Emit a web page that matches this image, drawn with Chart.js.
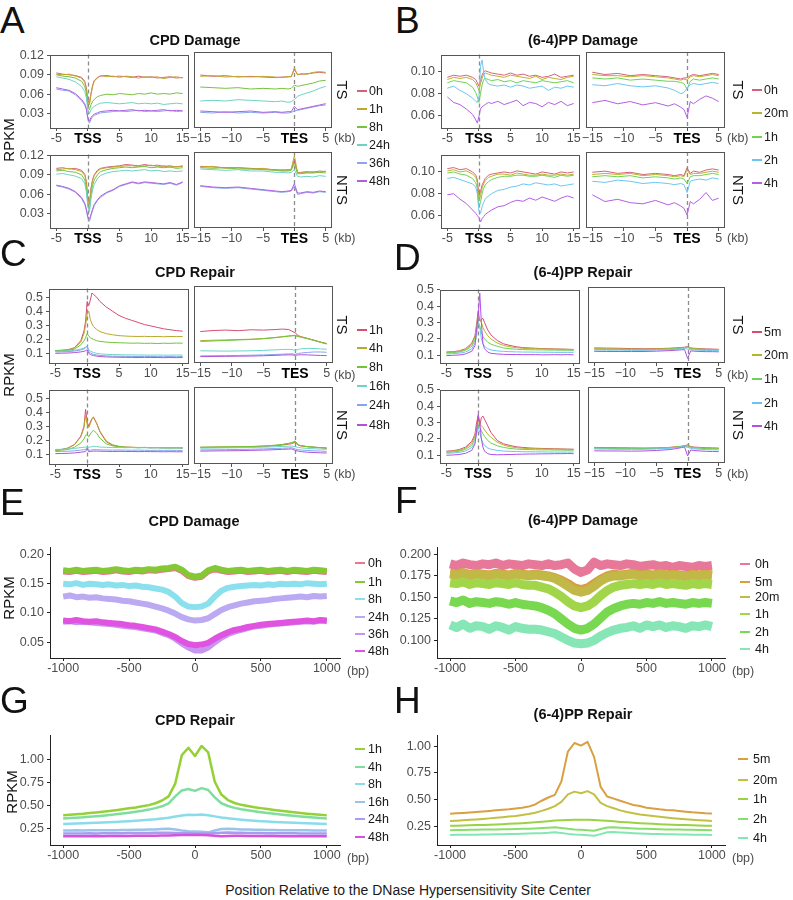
<!DOCTYPE html>
<html>
<head>
<meta charset="utf-8">
<script src="https://cdn.jsdelivr.net/npm/chart.js@4.4.1/dist/chart.umd.min.js"></script>
<style>
body{margin:0;background:#fff;font-family:"Liberation Sans",Arial,Helvetica,sans-serif;}
#page{position:relative;width:793px;height:900px;overflow:hidden;background:#fff;}
#page canvas{position:absolute;}
.t{position:absolute;white-space:nowrap;line-height:1;}
.key{position:absolute;}
</style>
</head>
<body>
<div id="page"></div>
<script>
// x positions (kb around TSS / TES, bp around DHS centre)
const TSS_KB = [-5,-4,-3,-2,-1, -0.5,-0.25,0,0.25,0.5,0.75, 1,1.5,2, 3,4,5,6,7,8,9,10,11,12,13,14,15];
const TES_KB = [-15,-13,-11,-9,-7, -5,-3,-2,-1,-0.5, 0, 0.5,1,2,3,4,5];
const BP = [-1000,-950,-900,-850,-800,-750,-700,-650,-600,-550,
            -500,-450,-400,-350,-300,-250,-200,-150,-100,-50,
            0,
            50,100,150,200,250,300,350,400,450,500,
            550,600,650,700,750,800,850,900,950,1000];

const TSS_TICKS = [-5,0,5,10,15];
const TES_TICKS = [-15,-10,-5,0,5];
const BP_TICKS = [-1000,-500,0,500,1000];
const A_YTICKS = [0.03,0.06,0.09,0.12];
const B_YTICKS = [0.06,0.08,0.10];
const CD_YTICKS = [0.1,0.2,0.3,0.4,0.5];
const E_YTICKS = [0.05,0.10,0.15,0.20];
const F_YTICKS = [0.100,0.125,0.150,0.175,0.200];
const GH_YTICKS = [0.25,0.50,0.75,1.00];

const A_TIMES = ['0h','1h','8h','24h','36h','48h'];
const B_TIMES = ['0h','20m','1h','2h','4h'];
const C_TIMES = ['1h','4h','8h','16h','24h','48h'];
const D_TIMES = ['5m','20m','1h','2h','4h'];
const E_TIMES = ['0h','1h','8h','24h','36h','48h'];
const F_TIMES = ['0h','5m','20m','1h','2h','4h'];
const G_TIMES = ['1h','4h','8h','16h','24h','48h'];
const H_TIMES = ['5m','20m','1h','2h','4h'];

// A: CPD damage
const A_TS_TSS = [
 [.093,.091,.090,.089,.086, .080,.070,.050,.046,.062,.074, .081,.086,.088, .089,.087,.088,.087,.086,.088,.086,.087,.085,.086,.087,.085,.086],
 [.091,.090,.091,.088,.085, .078,.068,.048,.044,.060,.072, .080,.085,.089, .087,.088,.086,.088,.087,.085,.087,.086,.087,.084,.086,.087,.085],
 [.090,.088,.087,.085,.080, .072,.062,.040,.036,.044,.049, .052,.056,.058, .060,.059,.061,.060,.059,.061,.060,.062,.060,.061,.060,.062,.061],
 [.087,.085,.083,.079,.072, .064,.055,.034,.030,.036,.039, .041,.044,.046, .047,.046,.045,.046,.047,.045,.046,.045,.046,.044,.045,.046,.045],
 [.068,.066,.065,.059,.050, .043,.036,.020,.015,.021,.025, .027,.029,.031, .032,.033,.034,.033,.034,.035,.033,.034,.033,.034,.035,.033,.034],
 [.070,.068,.066,.061,.052, .045,.038,.023,.018,.024,.027, .029,.031,.033, .034,.035,.034,.035,.036,.034,.035,.034,.035,.036,.034,.035,.034]];
const A_TS_TES = [
 [.087,.085,.086,.084,.085, .084,.083,.084,.084,.085, .095, .088,.088,.089,.090,.091,.090],
 [.085,.086,.084,.085,.084, .085,.084,.083,.085,.084, .098, .087,.089,.088,.091,.092,.091],
 [.069,.068,.067,.068,.066, .067,.066,.067,.066,.067, .072, .070,.071,.073,.075,.078,.079],
 [.048,.049,.048,.050,.049, .048,.047,.048,.046,.047, .050, .055,.057,.060,.063,.067,.070],
 [.031,.030,.032,.030,.031, .030,.031,.030,.030,.031, .033, .034,.035,.037,.039,.041,.042],
 [.033,.032,.031,.032,.033, .031,.032,.031,.032,.032, .040, .035,.036,.038,.040,.042,.044]];
const A_NTS_TSS = [
 [.100,.101,.099,.100,.097, .091,.080,.052,.046,.070,.083, .090,.097,.100, .102,.103,.104,.106,.105,.104,.106,.104,.105,.103,.104,.102,.104],
 [.098,.099,.100,.098,.095, .089,.078,.050,.044,.068,.081, .089,.095,.099, .101,.102,.103,.104,.104,.103,.104,.105,.103,.104,.102,.103,.103],
 [.096,.097,.095,.094,.090, .082,.070,.042,.036,.060,.074, .082,.090,.095, .098,.100,.101,.102,.101,.102,.103,.101,.102,.101,.102,.100,.101],
 [.091,.092,.090,.088,.084, .076,.064,.040,.033,.054,.067, .075,.084,.089, .093,.095,.096,.097,.096,.097,.098,.096,.097,.095,.096,.095,.096],
 [.073,.071,.068,.063,.053, .044,.035,.022,.018,.027,.035, .042,.050,.055, .062,.066,.072,.075,.078,.076,.078,.077,.076,.075,.077,.074,.078],
 [.074,.072,.069,.064,.055, .046,.037,.025,.021,.029,.037, .044,.051,.057, .063,.067,.073,.076,.079,.077,.079,.078,.077,.076,.078,.075,.079]];
const A_NTS_TES = [
 [.100,.099,.098,.098,.097, .096,.095,.094,.095,.095, .110, .090,.091,.092,.091,.093,.092],
 [.099,.100,.097,.098,.096, .097,.094,.095,.094,.096, .116, .091,.090,.091,.092,.091,.093],
 [.098,.097,.098,.096,.096, .095,.094,.093,.093,.094, .105, .089,.089,.090,.090,.091,.090],
 [.096,.095,.094,.095,.093, .093,.091,.091,.090,.091, .095, .085,.084,.085,.084,.086,.085],
 [.070,.068,.067,.068,.066, .064,.062,.061,.062,.063, .070, .058,.059,.061,.060,.062,.061],
 [.071,.069,.068,.069,.067, .065,.063,.062,.063,.064, .074, .060,.060,.062,.061,.063,.062]];

// B: (6-4)PP damage
const B_TS_TSS = [
 [.095,.097,.096,.097,.095, .093,.090,.087,.092,.097,.100, .101,.100,.099, .098,.097,.099,.097,.098,.096,.097,.095,.096,.098,.095,.096,.097],
 [.093,.095,.094,.095,.093, .090,.087,.083,.089,.094,.098, .099,.098,.097, .096,.095,.097,.096,.095,.094,.096,.093,.095,.094,.093,.095,.096],
 [.090,.092,.091,.090,.086, .081,.077,.072,.080,.088,.093, .094,.093,.092, .093,.091,.092,.090,.092,.091,.090,.092,.091,.090,.091,.092,.090],
 [.085,.087,.083,.080,.076, .073,.072,.076,.105,.111,.100, .093,.089,.088, .087,.088,.086,.088,.087,.085,.086,.087,.083,.086,.085,.087,.086],
 [.077,.072,.070,.066,.061, .056,.053,.059,.066,.068,.069, .070,.072,.071, .073,.070,.072,.074,.069,.072,.071,.068,.072,.070,.073,.069,.071]];
const B_TS_TES = [
 [.098,.096,.097,.095,.096, .095,.094,.093,.092,.093, .093, .095,.096,.095,.096,.097,.096],
 [.096,.095,.095,.094,.095, .094,.093,.092,.091,.092, .091, .094,.095,.094,.095,.096,.095],
 [.093,.092,.093,.091,.092, .091,.090,.090,.089,.088, .083, .090,.092,.091,.092,.093,.092],
 [.087,.086,.088,.086,.085, .086,.084,.082,.079,.080, .084, .087,.088,.087,.088,.089,.088],
 [.071,.073,.070,.072,.069, .071,.068,.070,.067,.065, .058, .072,.070,.074,.077,.075,.072]];
const B_NTS_TSS = [
 [.103,.104,.102,.103,.100, .097,.093,.078,.082,.088,.091, .094,.097,.098, .099,.100,.099,.101,.100,.099,.098,.100,.099,.098,.100,.099,.100],
 [.101,.102,.100,.101,.098, .095,.090,.073,.078,.085,.089, .092,.095,.096, .098,.098,.097,.099,.098,.097,.097,.098,.097,.097,.098,.097,.098],
 [.099,.100,.098,.097,.094, .090,.085,.068,.072,.080,.085, .088,.091,.093, .095,.096,.096,.097,.097,.096,.096,.097,.096,.095,.097,.096,.097],
 [.094,.095,.093,.091,.089, .086,.080,.064,.062,.068,.072, .075,.078,.080, .083,.084,.086,.087,.089,.088,.090,.089,.088,.089,.087,.088,.089],
 [.079,.080,.075,.071,.065, .062,.060,.058,.054,.057,.059, .061,.063,.065, .068,.069,.072,.074,.073,.076,.074,.077,.075,.073,.076,.078,.076]];
const B_NTS_TES = [
 [.098,.099,.097,.098,.096, .097,.096,.095,.096,.095, .102, .097,.099,.098,.100,.101,.100],
 [.096,.097,.096,.097,.095, .096,.095,.094,.095,.094, .100, .096,.097,.097,.098,.099,.098],
 [.094,.095,.094,.095,.093, .094,.093,.092,.093,.092, .088, .094,.095,.095,.096,.097,.096],
 [.090,.089,.091,.090,.088, .089,.088,.087,.088,.087, .080, .090,.091,.092,.091,.093,.092],
 [.078,.072,.074,.071,.070, .073,.069,.071,.068,.066, .060, .072,.070,.074,.080,.073,.075]];

// C: CPD repair
const C_TS_TSS = [
 [.120,.122,.126,.140,.190, .260,.330,.470,.440,.480,.530, .520,.500,.470, .430,.400,.370,.350,.335,.320,.305,.295,.285,.275,.268,.262,.258],
 [.118,.120,.124,.138,.180, .240,.300,.380,.400,.340,.310, .290,.270,.255, .240,.232,.226,.223,.221,.220,.221,.219,.220,.218,.220,.219,.220],
 [.118,.119,.121,.130,.160, .190,.210,.240,.225,.210,.205, .200,.190,.185, .180,.177,.175,.174,.172,.173,.171,.172,.170,.172,.171,.173,.172],
 [.115,.116,.117,.121,.130, .138,.143,.150,.125,.115,.110, .106,.100,.096, .093,.091,.090,.089,.089,.088,.088,.087,.088,.087,.087,.088,.087],
 [.110,.111,.112,.116,.124, .132,.140,.150,.112,.103,.097, .093,.088,.085, .082,.080,.079,.078,.078,.077,.078,.077,.077,.076,.077,.076,.077],
 [.100,.101,.102,.105,.110, .115,.118,.125,.100,.092,.087, .084,.080,.077, .074,.073,.072,.071,.071,.070,.071,.070,.070,.069,.070,.069,.070]];
const C_TS_TES = [
 [.248,.255,.258,.254,.260, .258,.262,.265,.262,.250, .240, .220,.212,.200,.188,.175,.165],
 [.185,.188,.190,.193,.195, .200,.208,.213,.218,.220, .222, .215,.210,.200,.188,.176,.164],
 [.180,.183,.186,.190,.193, .198,.206,.211,.216,.218, .220, .213,.208,.198,.186,.174,.162],
 [.115,.114,.113,.114,.115, .118,.122,.124,.125,.124, .118, .125,.129,.132,.131,.128,.126],
 [.080,.081,.082,.083,.085, .087,.090,.092,.094,.095, .090, .097,.100,.104,.107,.107,.105],
 [.075,.076,.077,.078,.079, .081,.084,.086,.087,.087, .084, .087,.088,.087,.085,.083,.082]];
const C_NTS_TSS = [
 [.130,.135,.145,.170,.230, .300,.420,.330,.300,.330,.355, .365,.320,.260, .190,.165,.155,.150,.150,.148,.149,.147,.148,.146,.147,.146,.145],
 [.130,.134,.144,.168,.225, .290,.380,.310,.290,.320,.350, .360,.320,.265, .195,.168,.157,.152,.150,.149,.149,.148,.147,.147,.146,.147,.146],
 [.128,.130,.135,.150,.180, .210,.235,.240,.225,.245,.262, .270,.250,.215, .175,.160,.155,.150,.149,.148,.149,.147,.148,.147,.146,.147,.146],
 [.135,.136,.138,.142,.148, .150,.152,.155,.150,.152,.155, .158,.155,.152, .150,.148,.149,.147,.148,.146,.147,.146,.147,.145,.146,.145,.146],
 [.120,.121,.122,.125,.130, .133,.135,.150,.128,.130,.132, .133,.133,.132, .131,.130,.131,.130,.129,.130,.129,.128,.129,.128,.129,.128,.128],
 [.105,.106,.107,.110,.115, .118,.120,.140,.118,.120,.122, .123,.123,.122, .121,.120,.121,.120,.120,.119,.120,.119,.119,.118,.119,.118,.118]];
const C_NTS_TES = [
 [.145,.146,.147,.148,.150, .153,.158,.162,.168,.172, .180, .160,.155,.150,.147,.144,.140],
 [.146,.147,.148,.149,.151, .154,.160,.165,.172,.176, .186, .162,.156,.150,.146,.143,.140],
 [.147,.148,.149,.150,.152, .155,.161,.166,.174,.178, .190, .163,.157,.151,.147,.144,.141],
 [.140,.141,.142,.143,.145, .147,.150,.152,.154,.155, .150, .145,.142,.138,.136,.134,.132],
 [.128,.129,.130,.131,.133, .135,.138,.140,.142,.143, .135, .130,.127,.124,.122,.120,.118],
 [.120,.121,.122,.123,.125, .127,.130,.132,.134,.135, .125, .120,.116,.112,.110,.108,.107]];

// D: (6-4)PP repair
const D_TS_TSS = [
 [.120,.122,.127,.140,.175, .220,.290,.370,.310,.320,.325, .300,.255,.225, .190,.170,.160,.152,.147,.145,.143,.141,.140,.139,.138,.137,.136],
 [.118,.120,.124,.135,.165, .210,.280,.340,.320,.300,.270, .250,.220,.200, .175,.160,.152,.147,.143,.141,.140,.139,.138,.137,.137,.136,.135],
 [.115,.117,.120,.130,.155, .195,.260,.300,.280,.240,.215, .200,.180,.168, .155,.145,.140,.137,.135,.134,.133,.133,.132,.132,.131,.131,.130],
 [.108,.110,.113,.120,.140, .175,.220,.310,.270,.200,.170, .155,.140,.133, .127,.124,.122,.121,.120,.120,.119,.119,.119,.118,.118,.118,.118],
 [.098,.100,.102,.108,.125, .160,.260,.340,.480,.300,.170, .140,.120,.112, .108,.106,.105,.105,.104,.104,.104,.103,.103,.104,.103,.104,.103]];
const D_TS_TES = [
 [.142,.141,.140,.138,.137, .138,.140,.142,.145,.146, .150, .142,.140,.138,.136,.135,.134],
 [.138,.137,.136,.135,.134, .136,.138,.140,.143,.144, .148, .140,.138,.136,.134,.133,.132],
 [.134,.133,.133,.132,.131, .133,.135,.137,.140,.141, .145, .137,.135,.133,.131,.130,.129],
 [.130,.129,.129,.128,.128, .130,.132,.134,.137,.138, .135, .132,.130,.128,.127,.126,.125],
 [.122,.121,.121,.121,.121, .123,.126,.128,.131,.132, .080, .125,.123,.121,.120,.120,.119]];
const D_NTS_TSS = [
 [.125,.128,.135,.150,.185, .230,.300,.340,.280,.330,.340, .320,.280,.240, .190,.170,.160,.152,.148,.145,.143,.142,.141,.140,.139,.138,.137],
 [.122,.125,.130,.143,.175, .215,.270,.300,.290,.280,.270, .255,.230,.210, .180,.162,.152,.147,.143,.141,.140,.139,.138,.138,.137,.136,.136],
 [.118,.120,.125,.136,.162, .200,.250,.280,.270,.250,.230, .215,.190,.175, .158,.148,.142,.138,.136,.135,.134,.133,.133,.132,.132,.131,.131],
 [.112,.114,.118,.126,.148, .180,.230,.270,.240,.200,.175, .160,.145,.137, .130,.126,.124,.123,.122,.122,.121,.121,.120,.120,.120,.120,.120],
 [.100,.102,.105,.112,.130, .170,.250,.350,.300,.200,.150, .125,.110,.105, .103,.104,.105,.106,.107,.108,.108,.109,.109,.110,.110,.111,.110]];
const D_NTS_TES = [
 [.145,.144,.143,.142,.141, .142,.145,.148,.152,.155, .160, .150,.147,.145,.143,.142,.141],
 [.143,.142,.141,.140,.140, .141,.144,.147,.151,.154, .158, .148,.145,.143,.141,.140,.139],
 [.140,.139,.138,.138,.138, .140,.143,.146,.150,.153, .150, .145,.142,.140,.138,.137,.136],
 [.136,.135,.134,.134,.134, .136,.140,.143,.148,.151, .145, .140,.137,.134,.132,.131,.130],
 [.125,.124,.124,.123,.124, .127,.132,.137,.144,.148, .095, .130,.127,.124,.122,.121,.120]];

// E: CPD damage around DHS
const E_DATA = [
 [.171,.170,.172,.170,.171,.172,.170,.171,.173,.171, .170,.172,.171,.173,.172,.174,.175,.177,.172,.163, .160, .162,.171,.175,.172,.170,.171,.172,.170,.171,.172, .170,.171,.172,.170,.172,.171,.170,.172,.171,.170],
 [.173,.172,.174,.172,.173,.174,.172,.173,.175,.173, .172,.174,.173,.175,.174,.176,.177,.179,.174,.165, .162, .164,.173,.177,.174,.172,.173,.174,.172,.173,.174, .172,.173,.174,.172,.174,.173,.172,.174,.173,.172],
 [.150,.149,.151,.148,.150,.149,.148,.149,.147,.148, .146,.147,.145,.144,.142,.140,.136,.128,.117,.111, .110, .111,.116,.128,.138,.143,.145,.146,.147,.148,.147, .149,.148,.150,.149,.150,.149,.151,.150,.149,.150],
 [.128,.130,.127,.128,.126,.127,.125,.124,.123,.121, .120,.118,.116,.114,.111,.108,.104,.099,.093,.089, .087, .088,.091,.098,.105,.110,.113,.116,.118,.120,.121, .122,.124,.125,.126,.127,.128,.127,.129,.128,.129],
 [.085,.086,.084,.085,.084,.083,.082,.081,.080,.078, .077,.076,.074,.072,.070,.066,.062,.056,.048,.041, .036, .036,.041,.050,.058,.064,.068,.071,.074,.077,.078, .080,.081,.082,.083,.084,.085,.086,.085,.087,.086],
 [.087,.086,.088,.086,.085,.086,.084,.083,.082,.081, .079,.078,.076,.074,.072,.068,.064,.059,.052,.047, .045, .046,.049,.056,.062,.067,.071,.073,.076,.078,.080, .081,.082,.083,.084,.085,.086,.087,.086,.088,.087]];

// F: (6-4)PP damage around DHS
const F_DATA = [
 [.189,.187,.190,.188,.187,.189,.188,.190,.187,.189, .188,.187,.189,.188,.187,.189,.187,.188,.190,.183, .179, .182,.191,.187,.189,.188,.187,.189,.188,.186,.187, .188,.186,.187,.185,.187,.186,.185,.187,.186,.187],
 [.178,.177,.179,.176,.178,.177,.176,.178,.177,.176, .178,.177,.176,.177,.176,.175,.173,.170,.166,.161, .159, .161,.166,.171,.175,.177,.176,.177,.178,.176,.177, .176,.178,.176,.177,.176,.175,.177,.176,.177,.176],
 [.177,.176,.178,.175,.177,.176,.175,.177,.176,.175, .177,.176,.175,.176,.175,.174,.172,.168,.163,.158, .156, .158,.163,.169,.173,.175,.175,.176,.177,.175,.176, .175,.177,.175,.176,.175,.174,.176,.175,.176,.175],
 [.167,.166,.168,.165,.167,.166,.165,.167,.166,.165, .167,.165,.164,.164,.162,.160,.156,.151,.145,.140, .138, .140,.145,.152,.158,.162,.164,.165,.166,.165,.166, .165,.167,.165,.166,.165,.164,.166,.165,.166,.165],
 [.146,.144,.147,.143,.145,.144,.143,.145,.144,.142, .144,.142,.141,.140,.138,.135,.131,.125,.119,.114, .112, .114,.119,.126,.133,.137,.140,.142,.143,.142,.144, .143,.145,.143,.144,.143,.142,.144,.143,.144,.143],
 [.118,.115,.119,.114,.117,.116,.113,.117,.115,.112, .116,.114,.113,.113,.112,.110,.108,.104,.100,.097, .096, .097,.100,.105,.109,.112,.114,.115,.117,.114,.118, .116,.118,.115,.117,.116,.114,.117,.116,.118,.116]];

// G: CPD repair around DHS
const G_DATA = [
 [.395,.400,.405,.410,.418,.425,.432,.440,.450,.460, .470,.480,.492,.505,.525,.555,.600,.740,1.050,1.130, 1.040, 1.150,1.080,.760,.620,.560,.528,.508,.495,.482,.472, .462,.452,.443,.435,.427,.420,.412,.405,.399,.393],
 [.360,.364,.368,.372,.378,.384,.390,.397,.405,.413, .422,.432,.443,.456,.472,.492,.525,.600,.665,.680, .660, .690,.670,.590,.525,.495,.475,.460,.448,.437,.427, .418,.410,.402,.395,.388,.382,.376,.370,.365,.360],
 [.300,.302,.304,.306,.309,.312,.315,.318,.322,.326, .330,.335,.340,.346,.352,.360,.368,.380,.392,.400, .396, .402,.394,.382,.370,.361,.353,.346,.340,.335,.330, .326,.322,.318,.315,.312,.309,.306,.304,.302,.300],
 [.228,.229,.230,.229,.230,.231,.230,.232,.232,.233, .234,.235,.236,.238,.240,.245,.248,.240,.228,.220, .218, .214,.208,.228,.245,.248,.244,.240,.238,.236,.235, .234,.233,.232,.232,.231,.230,.230,.229,.229,.228],
 [.195,.196,.195,.196,.197,.196,.197,.198,.198,.199, .200,.200,.201,.202,.203,.204,.203,.200,.198,.197, .196, .196,.195,.199,.203,.205,.204,.203,.202,.201,.200, .199,.198,.198,.197,.197,.196,.196,.195,.196,.195],
 [.165,.166,.165,.166,.166,.167,.166,.167,.168,.168, .169,.170,.170,.171,.172,.173,.174,.176,.178,.180, .181, .180,.176,.170,.166,.168,.170,.170,.169,.168,.168, .167,.167,.166,.166,.166,.165,.166,.165,.165,.165]];

// H: (6-4)PP repair around DHS
const H_DATA = [
 [.368,.372,.376,.380,.385,.390,.395,.400,.405,.410, .418,.425,.435,.455,.490,.520,.545,.670,.950,1.030, 1.005, 1.040,.900,.620,.530,.510,.490,.470,.450,.440,.425, .418,.410,.404,.400,.395,.388,.382,.378,.373,.370],
 [.300,.303,.307,.311,.315,.320,.325,.330,.336,.342, .348,.356,.366,.378,.395,.415,.440,.480,.550,.575, .560, .580,.550,.470,.440,.420,.400,.385,.372,.362,.355, .347,.340,.333,.327,.321,.316,.312,.308,.304,.300],
 [.255,.256,.258,.260,.262,.264,.266,.268,.271,.274, .277,.280,.284,.288,.293,.298,.304,.308,.310,.312, .312, .313,.310,.306,.302,.297,.292,.288,.284,.280,.277, .274,.271,.268,.266,.264,.262,.260,.258,.256,.255],
 [.215,.216,.217,.218,.219,.220,.221,.222,.223,.224, .226,.227,.229,.231,.234,.238,.242,.236,.228,.222, .218, .215,.210,.225,.240,.242,.238,.234,.231,.229,.227, .225,.224,.222,.221,.220,.219,.218,.217,.216,.215],
 [.170,.171,.172,.172,.173,.174,.175,.176,.177,.178, .180,.181,.183,.185,.187,.190,.195,.188,.180,.175, .172, .168,.162,.178,.195,.198,.194,.190,.187,.184,.182, .180,.178,.177,.176,.175,.174,.173,.172,.171,.170]];

const A_COLORS = ['#D9607A','#BFA82E','#77C23E','#6ED2C2','#8AA4EE','#B061E0'];
const B_COLORS = ['#D9607A','#B9B52A','#6FD155','#6DC6F0','#B45EE6'];
const C_COLORS = ['#D64E70','#B9A82A','#70C43A','#6DD5C5','#86A5F0','#B052D8'];
const D_COLORS = ['#D94C70','#B5B528','#6CD05A','#6BC5F0','#B050E8'];
const E_COLORS = ['#E7788F','#84C934','#8BE0EE','#BBA9F2','#C794F0','#E052E0'];
const F_COLORS = ['#E87899','#D4A040','#C2B848','#A2D64A','#78D850','#86E6B6'];
const G_COLORS = ['#93D135','#7FDE9E','#8ADCEB','#9CC2EA','#A99BF0','#D354DB'];
const H_COLORS = ['#D9A042','#C2C043','#9AD243','#86DE6E','#82E7B2'];

const FONT = '"Liberation Sans", Arial, Helvetica, sans-serif';
const GRAY = '#4d4d4d';
const page = document.getElementById('page');
const YW = 48, PT = 8, PR = 16, XH = 20;
Chart.defaults.font.family = FONT;

const tssFmt = v => v === 0 ? 'TSS' : String(v);
const tesFmt = v => v === 0 ? 'TES' : (v < 0 ? '\u2212' + (-v) : String(v));
const bpFmt = v => String(v);

// dashed line at 0 and the grey panel frame
const frame = {
  id: 'frame',
  beforeDatasetsDraw(ch, args, o) {
    if (!o.vline) return;
    const a = ch.chartArea, ctx = ch.ctx;
    const x = Math.round(ch.scales.x.getPixelForValue(0)) + 0.5;
    ctx.save();
    ctx.strokeStyle = '#8c8c8c'; ctx.lineWidth = 1.3; ctx.setLineDash([4, 3]);
    ctx.beginPath(); ctx.moveTo(x, a.top); ctx.lineTo(x, a.bottom); ctx.stroke();
    ctx.restore();
  },
  afterDatasetsDraw(ch, args, o) {
    if (!o.box) return;
    const a = ch.chartArea, ctx = ch.ctx;
    ctx.save();
    ctx.strokeStyle = '#555'; ctx.lineWidth = 1;
    ctx.strokeRect(Math.round(a.left) + 0.5, Math.round(a.top) + 0.5,
      Math.round(a.right - a.left) - 1, Math.round(a.bottom - a.top) - 1);
    ctx.restore();
  }
};

function plot(p) {
  const c = document.createElement('canvas');
  const w = YW + p.box[2] + PR, h = PT + p.box[3] + XH;
  c.width = w; c.height = h;
  c.style.left = (p.box[0] - YW) + 'px';
  c.style.top = (p.box[1] - PT) + 'px';
  c.style.width = w + 'px'; c.style.height = h + 'px';
  page.appendChild(c);
  const n = p.data.length;
  const tickCol = p.framed ? '#555' : '#222';
  const isBold = t => p.bold0 && t && t.value === 0;
  new Chart(c, {
    type: 'line',
    data: {
      datasets: p.data.map((s, i) => ({
        data: s.map((v, j) => ({x: p.xs[j], y: v})),
        borderColor: p.colors[i], borderWidth: p.lw, pointRadius: 0,
        tension: 0, order: n - i, borderJoinStyle: 'round'
      }))
    },
    options: {
      responsive: false, animation: false, events: [],
      layout: {padding: {top: PT, right: PR, bottom: 0, left: 0}},
      plugins: {legend: {display: false}, tooltip: {enabled: false}, frame: {vline: p.vline, box: p.framed}},
      scales: {
        x: {
          type: 'linear', min: p.xr[0], max: p.xr[1],
          afterBuildTicks: s => { s.ticks = p.xticks.map(v => ({value: v})); },
          afterFit: s => { s.height = XH; },
          ticks: {
            autoSkip: false, maxRotation: 0, padding: 0, callback: p.xfmt,
            color: ctx => isBold(ctx.tick) ? '#000' : GRAY,
            font: ctx => isBold(ctx.tick) ? {family: FONT, size: 14, weight: 'bold'} : {family: FONT, size: 12.5}
          },
          grid: {display: true, drawOnChartArea: false, drawTicks: true, tickLength: 3, color: tickCol},
          border: {display: !p.framed, color: '#222', width: 1}
        },
        y: {
          min: p.yr[0], max: p.yr[1],
          afterBuildTicks: s => { s.ticks = p.yticks.map(v => ({value: v})); },
          afterFit: s => { s.width = YW; },
          ticks: {display: p.showY, padding: 3, callback: v => v.toFixed(p.ydec), color: GRAY, font: {family: FONT, size: 12.5}},
          grid: {display: p.showY, drawOnChartArea: false, drawTicks: true, tickLength: 3, color: tickCol},
          border: {display: !p.framed, color: '#222', width: 1}
        }
      }
    },
    plugins: [frame]
  });
}

// 2x2 facet: TS / NTS rows, TSS / TES columns
function facet(x1, w1, x2, w2, tops, h, sets, colors, yr, yticks, ydec) {
  tops.forEach((t, r) => {
    plot({box: [x1, t, w1, h], xs: TSS_KB, data: sets[r * 2], colors, xr: [-6, 16], xticks: TSS_TICKS,
      xfmt: tssFmt, yr, yticks, ydec, showY: true, framed: true, vline: true, bold0: true, lw: 1});
    plot({box: [x2, t, w2, h], xs: TES_KB, data: sets[r * 2 + 1], colors, xr: [-16, 6], xticks: TES_TICKS,
      xfmt: tesFmt, yr, yticks, ydec, showY: false, framed: true, vline: true, bold0: true, lw: 1});
  });
}

function single(box, data, colors, yr, yticks, ydec, lw) {
  plot({box, xs: BP, data, colors, xr: [-1100, 1100], xticks: BP_TICKS, xfmt: bpFmt,
    yr, yticks, ydec, showY: true, framed: false, vline: false, bold0: false, lw});
}

function label(str, x, y, css, mode) {
  const d = document.createElement('div');
  d.className = 't';
  d.textContent = str;
  d.style.cssText += css;
  d.style.left = x + 'px';
  d.style.top = y + 'px';
  if (mode === 'c') d.style.transform = 'translate(-50%,-50%)';
  else if (mode === 'l') d.style.transform = 'translate(0,-50%)';
  else if (mode === 'up') d.style.transform = 'translate(-50%,-50%) rotate(-90deg)';
  else if (mode === 'down') d.style.transform = 'translate(-50%,-50%) rotate(90deg)';
  page.appendChild(d);
}

function legend(keyX, textX, ys, names, colors, thick) {
  names.forEach((nm, i) => {
    const k = document.createElement('div');
    k.className = 'key';
    k.style.left = keyX + 'px';
    k.style.top = (ys[i] - thick / 2) + 'px';
    k.style.width = '10px';
    k.style.height = thick + 'px';
    k.style.background = colors[i];
    page.appendChild(k);
    label(nm, textX, ys[i], 'font-size:12.5px;color:#1a1a1a;', 'l');
  });
}

// ---- charts ----
facet(50, 139, 194, 138, [52, 152], 76, [A_TS_TSS, A_TS_TES, A_NTS_TSS, A_NTS_TES], A_COLORS, [0.0075, 0.1215], A_YTICKS, 2);
facet(441, 139, 586, 139, [52, 152], 76, [B_TS_TSS, B_TS_TES, B_NTS_TSS, B_NTS_TES], B_COLORS, [0.0485, 0.116], B_YTICKS, 2);
facet(49, 140, 194, 139, [286, 387], 77, [C_TS_TSS, C_TS_TES, C_NTS_TSS, C_NTS_TES], C_COLORS, [0.031, 0.562], CD_YTICKS, 1);
facet(440, 140, 588, 137, [287, 387], 76, [D_TS_TSS, D_TS_TES, D_NTS_TSS, D_NTS_TES], D_COLORS, [0.053, 0.502], CD_YTICKS, 1);
single([50, 545, 290, 113], E_DATA, E_COLORS, [0.023, 0.212], E_YTICKS, 2, 6);
single([437, 545, 288, 113], F_DATA, F_COLORS, [0.0795, 0.208], F_YTICKS, 3, 9);
single([50, 733, 290, 112], G_DATA, G_COLORS, [0.07, 1.264], GH_YTICKS, 2, 2.5);
single([437, 733, 288, 112], H_DATA, H_COLORS, [0.076, 1.10], GH_YTICKS, 2, 2);

// ---- text ----
const LET = 'font-size:37px;color:#111;';
label('A', 0, 2, LET); label('B', 395, 2, LET);
label('C', 0, 235, LET); label('D', 394, 239, LET);
label('E', 0, 484, LET); label('F', 395, 482, LET);
label('G', 0, 682, LET); label('H', 394, 682, LET);

const TTL = 'font-size:14.5px;font-weight:bold;color:#111;';
label('CPD Damage', 195, 40, TTL, 'c');
label('(6-4)PP Damage', 583, 40, TTL, 'c');
label('CPD Repair', 195, 272, TTL, 'c');
label('(6-4)PP Repair', 583, 272, TTL, 'c');
label('CPD Damage', 194, 521, TTL, 'c');
label('(6-4)PP Damage', 583, 520, TTL, 'c');
label('CPD Repair', 195, 720, TTL, 'c');
label('(6-4)PP Repair', 583, 714, TTL, 'c');

const AX = 'font-size:15px;color:#111;';
label('RPKM', 8, 140, AX, 'up');
label('RPKM', 8, 375, AX, 'up');
label('RPKM', 8, 598, AX, 'up');
label('RPKM', 11, 792, AX, 'up');

label('TS', 342, 90, AX, 'down'); label('NTS', 342, 190, AX, 'down');
label('TS', 738, 90, AX, 'down'); label('NTS', 738, 190, AX, 'down');
label('TS', 342, 325, AX, 'down'); label('NTS', 342, 425, AX, 'down');
label('TS', 738, 325, AX, 'down'); label('NTS', 738, 425, AX, 'down');

const UNIT = 'font-size:12.5px;color:' + GRAY + ';';
[[334, 138], [334, 238], [727, 138], [727, 238], [334, 375], [334, 474], [727, 375], [727, 474]]
  .forEach(p => label('(kb)', p[0], p[1], UNIT, 'l'));
[[347, 671], [732, 671], [347, 858], [732, 858]].forEach(p => label('(bp)', p[0], p[1], UNIT, 'l'));

legend(357, 369, [91, 109, 127, 145, 163, 181], A_TIMES, A_COLORS, 1.5);
legend(752, 764, [90, 113, 137, 160, 183], B_TIMES, B_COLORS, 1.5);
legend(357, 369, [330, 348, 367, 386, 405, 425], C_TIMES, C_COLORS, 1.5);
legend(752, 764, [332, 355, 379, 403, 426], D_TIMES, D_COLORS, 1.5);
legend(355, 368, [563, 582, 599, 617, 634, 651], E_TIMES, E_COLORS, 2);
legend(740, 755, [564, 582, 597, 614, 632, 649], F_TIMES, F_COLORS, 2);
legend(355, 368, [749, 767, 784, 802, 819, 837], G_TIMES, G_COLORS, 2);
legend(738, 753, [759, 780, 799, 819, 838], H_TIMES, H_COLORS, 2);

label('Position Relative to the DNase Hypersensitivity Site Center', 408, 890, 'font-size:14px;color:#1a1a1a;', 'c');
</script>
</body>
</html>
